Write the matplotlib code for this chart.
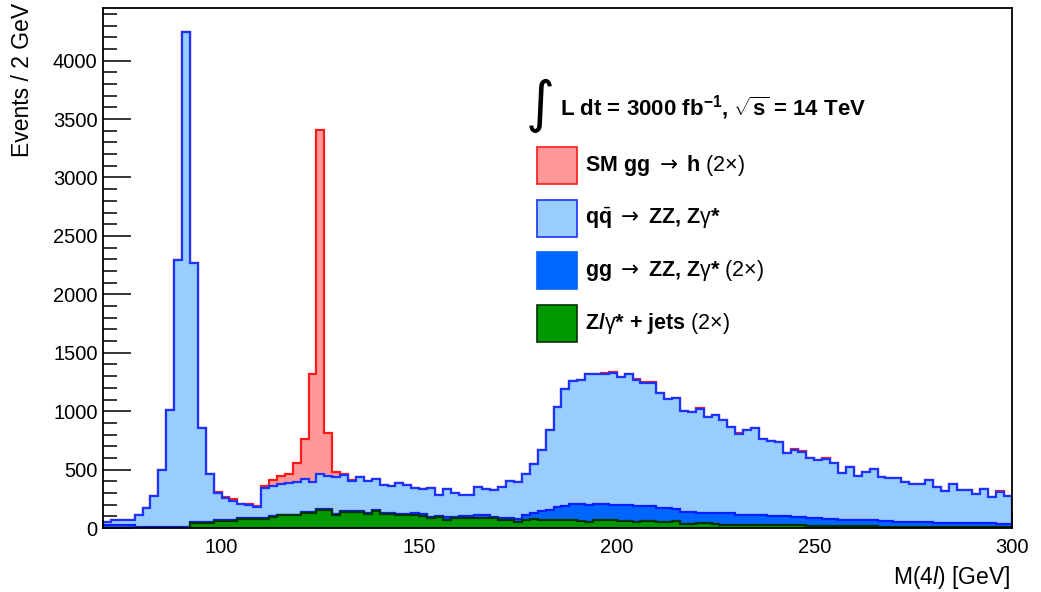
import numpy as np
import matplotlib.pyplot as plt
from matplotlib.patches import Rectangle
from matplotlib.ticker import MultipleLocator

plt.rcParams['font.family'] = ['Liberation Sans', 'DejaVu Sans']
plt.rcParams['mathtext.fontset'] = 'custom'
plt.rcParams['mathtext.rm'] = 'Liberation Sans'
plt.rcParams['mathtext.it'] = 'Liberation Sans:italic'
plt.rcParams['mathtext.bf'] = 'Liberation Sans:bold'
plt.rcParams['mathtext.sf'] = 'DejaVu Sans'

# 2 GeV bins of M(4l), 70 - 300 GeV
edges = np.arange(70, 302, 2)

# events per bin (stack order: bottom -> top)
zjets = [3, 3, 3, 3, 3, 3, 3, 3, 3, 3, 3,
         40, 40, 40, 60, 60, 60, 74, 74, 74, 80,
         94, 108, 108, 108, 131, 131, 151, 151, 115, 137,
         137, 137, 120, 145, 120, 120, 111, 111, 111, 103,
         83, 91, 68, 83, 88, 88, 88, 88, 88, 68,
         68, 54, 68, 77, 70, 70, 68, 68, 66, 63,
         54, 68, 68, 68, 63, 60, 48, 57, 57, 48,
         48, 57, 34, 34, 40, 40, 32, 30, 30, 28,
         28, 28, 28, 28, 23, 23, 23, 23, 20, 20,
         20, 20, 17, 17, 17, 17, 17, 11, 11, 11,
         11, 11, 11, 11, 11, 11, 11, 11, 11, 11,
         11, 11, 11, 11]
ggzz = [20, 20, 20, 20, 10, 10, 10, 10, 10, 10, 10,
        8, 8, 8, 8, 8, 8, 8, 8, 8, 8,
        8, 8, 8, 8, 8, 8, 8, 8, 8, 8,
        8, 8, 8, 8, 8, 8, 8, 8, 14, 17,
        13, 8, 23, 8, 15, 15, 20, 20, 8, 17,
        17, 20, 48, 54, 77, 88, 108, 123, 139, 142,
        147, 142, 142, 132, 137, 134, 140, 134, 128, 126,
        120, 109, 107, 107, 92, 88, 100, 95, 95, 87,
        87, 82, 80, 77, 77, 77, 73, 73, 66, 64,
        58, 58, 53, 53, 51, 51, 48, 52, 47, 43,
        43, 44, 44, 44, 36, 36, 34, 31, 31, 31,
        29, 29, 26, 26]
qqzz = [31, 45, 45, 47, 98, 155, 261, 483, 1001, 2278, 4235,
        2220, 804, 414, 232, 190, 167, 123, 118, 95, 251,
        260, 259, 266, 274, 280, 257, 303, 283, 310, 308,
        260, 294, 274, 263, 240, 231, 268, 251, 220, 213,
        243, 186, 245, 211, 182, 179, 240, 228, 226, 268,
        317, 319, 343, 419, 518, 677, 859, 1001, 1054, 1060,
        1115, 1106, 1112, 1131, 1093, 1122, 1083, 1054, 1060, 983,
        935, 945, 859, 850, 891, 824, 834, 798, 741, 694,
        723, 748, 650, 639, 638, 544, 576, 559, 515, 497,
        517, 475, 397, 449, 376, 413, 439, 376, 367, 376,
        342, 321, 318, 355, 306, 272, 331, 283, 283, 249,
        290, 228, 274, 237]
higgs = [0, 0, 0, 0, 0, 0, 0, 0, 0, 0, 0,
         0, 0, 3, 5, 7, 10, 5, 5, 11, 23,
         48, 69, 80, 165, 339, 920, 2940, 368, 46, 6] + [2] * 84

arrow = r'$\mathsf{\rightarrow}$'
labels = [r'Z/$\mathrm{\gamma}$* + jets $\mathrm{(2{\times})}$',
          r'gg ' + arrow + r' ZZ, Z$\mathrm{\gamma}$* $\mathrm{(2{\times})}$',
          r'q$\bar{\mathbf{q}}$ ' + arrow + r' ZZ, Z$\mathrm{\gamma}$*',
          r'SM gg ' + arrow + r' h $\mathrm{(2{\times})}$']
fills = ['#009900', '#0066ff', '#99ccff', '#ff9999']
lines = ['#003300', '#0a1eff', '#1a33ff', '#ff1a1a']
box_edges = ['#003300', '#0066ff', '#1a33ff', '#ff1a1a']

stack = np.cumsum(np.array([zjets, ggzz, qqzz, higgs], dtype=float), axis=0)

fig, ax = plt.subplots(figsize=(10.41, 5.92), dpi=100)
fig.subplots_adjust(left=0.099, right=0.972, bottom=0.108, top=0.9865)

# draw the stack from the top down, so each lower fill sits over the one above
z = 1
for k in [3, 2, 1, 0]:
    ax.stairs(stack[k], edges, fill=True, color=fills[k], zorder=z)
    ax.stairs(stack[k], edges, color=lines[k], lw=1.6, zorder=z + 0.5)
    z += 1

ax.set_xlim(70, 300)
ax.set_ylim(0, 4450)
ax.xaxis.set_major_locator(MultipleLocator(50))
ax.xaxis.set_minor_locator(MultipleLocator(10))
ax.yaxis.set_major_locator(MultipleLocator(500))
ax.yaxis.set_minor_locator(MultipleLocator(100))
ax.tick_params(which='both', direction='in', top=False, right=False, width=1.1, labelsize=14.5)
ax.tick_params(axis='y', which='major', length=20, pad=4)
ax.tick_params(axis='y', which='minor', length=10)
ax.tick_params(axis='x', which='major', length=11, pad=7)
ax.tick_params(axis='x', which='minor', length=5.5)
for s in ax.spines.values():
    s.set_linewidth(1.3)
    s.set_zorder(20)

ax.set_ylabel('Events / 2 GeV', fontsize=16.5, loc='top')
ax.yaxis.set_label_coords(-0.076, 1.01)
ax.set_xlabel(r'M(4$\mathit{l}$) [GeV]', fontsize=16.5, loc='right')
ax.xaxis.set_label_coords(0.998, -0.07)

# legend, ROOT style
ax.text(0.481, 0.812, '\u222b', transform=ax.transAxes, fontsize=40,
        ha='center', va='center', family=['DejaVu Sans'])
ax.text(0.5028, 0.8077, r'L dt = 3000 fb$^{\mathbf{-1}}$, $\sqrt{\mathbf{s}}$ = 14 TeV',
        transform=ax.transAxes, fontsize=16, fontweight='bold', va='center')
box_y = [0.3577, 0.4596, 0.5596, 0.6615]
for k in [3, 2, 1, 0]:
    ax.add_patch(Rectangle((0.4774, box_y[k]), 0.044, 0.0712, transform=ax.transAxes,
                           facecolor=fills[k], edgecolor=box_edges[k], lw=1.2, zorder=30))
    ax.text(0.5303, box_y[k] + 0.0356, labels[k], transform=ax.transAxes,
            fontsize=15.5, fontweight='bold', va='center', zorder=30)

fig.savefig('out.png', dpi=100)
